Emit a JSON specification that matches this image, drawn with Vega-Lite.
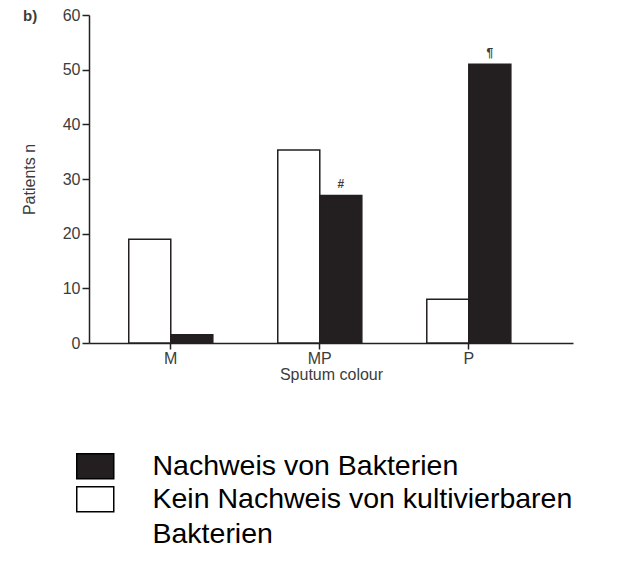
{
  "$schema": "https://vega.github.io/schema/vega-lite/v6.json",
  "width": 484,
  "height": 328,
  "autosize": {"type": "none"},
  "padding": {"left": 89, "top": 15, "right": 63, "bottom": 229},
  "background": "white",
  "config": {
    "view": {"stroke": null},
    "font": "Liberation Sans"
  },
  "title": {"text": "b)", "anchor": "start", "frame": "group", "dx": -66, "dy": 21, "fontSize": 15, "fontWeight": "bold", "color": "#3c3c3c", "font": "Liberation Sans"},
  "data": {"values": [
    {"colour": "M", "group": "Kein Nachweis von kultivierbaren Bakterien", "patients": 19, "note": ""},
    {"colour": "M", "group": "Nachweis von Bakterien", "patients": 1.5, "note": ""},
    {"colour": "MP", "group": "Kein Nachweis von kultivierbaren Bakterien", "patients": 35.3, "note": ""},
    {"colour": "MP", "group": "Nachweis von Bakterien", "patients": 27, "note": "#"},
    {"colour": "P", "group": "Kein Nachweis von kultivierbaren Bakterien", "patients": 8, "note": ""},
    {"colour": "P", "group": "Nachweis von Bakterien", "patients": 51, "note": "¶"}
  ]},
  "encoding": {
    "x": {
      "field": "colour", "type": "nominal", "title": "Sputum colour",
      "scale": {"paddingInner": 0.436, "paddingOuter": 0.342, "align": 0.39},
      "axis": {"labelAngle": 0, "domainColor": "#222222", "domainWidth": 1.5, "tickColor": "#222222", "tickWidth": 1.5, "tickSize": 6, "labelPadding": 1, "labelFontSize": 16, "labelColor": "#3c3c3c", "titleFontSize": 16, "titleFontWeight": "normal", "titleColor": "#3c3c3c", "titlePadding": 0, "labelFont": "Liberation Sans", "titleFont": "Liberation Sans"}
    },
    "xOffset": {"field": "group", "sort": ["Kein Nachweis von kultivierbaren Bakterien", "Nachweis von Bakterien"], "scale": {"paddingInner": 0, "paddingOuter": 0}},
    "y": {
      "field": "patients", "type": "quantitative", "title": "Patients n",
      "scale": {"domain": [0, 60], "nice": false},
      "axis": {"values": [0, 10, 20, 30, 40, 50, 60], "grid": false, "domainColor": "#222222", "domainWidth": 1.5, "tickColor": "#222222", "tickWidth": 1.5, "tickSize": 7, "labelPadding": 2, "labelFontSize": 16, "labelColor": "#3c3c3c", "titleFontSize": 16, "titleFontWeight": "normal", "titleColor": "#3c3c3c", "titlePadding": 25, "labelFont": "Liberation Sans", "titleFont": "Liberation Sans"}
    }
  },
  "layer": [
    {
      "mark": {"type": "bar", "stroke": "#231f20", "strokeWidth": 1.5},
      "encoding": {
        "fill": {
          "field": "group", "type": "nominal",
          "scale": {"domain": ["Nachweis von Bakterien", "Kein Nachweis von kultivierbaren Bakterien"], "range": ["#231f20", "#ffffff"]},
          "legend": {
            "title": null, "orient": "none", "legendX": -8, "legendY": 437,
            "symbolType": "M-1.48,-1H1.48V1H-1.48Z", "symbolSize": 625,
            "symbolStrokeColor": "#000000", "symbolStrokeWidth": 1.5, "symbolOpacity": 1,
            "labelFontSize": 28.5, "labelFont": "Liberation Sans", "labelColor": "#000000",
            "labelOffset": 43, "labelLimit": 600, "rowPadding": 1,
            "labelExpr": "datum.label == 'Kein Nachweis von kultivierbaren Bakterien' ? ['Kein Nachweis von kultivierbaren', 'Bakterien'] : datum.label",
            "encode": {"labels": {"update": {"lineHeight": {"value": 35}}}}
          }
        }
      }
    },
    {
      "mark": {"type": "text", "dy": -11, "fontSize": 12, "fontWeight": "bold", "color": "#3c3c3c", "font": "Liberation Sans"},
      "encoding": {"text": {"field": "note"}}
    }
  ]
}
